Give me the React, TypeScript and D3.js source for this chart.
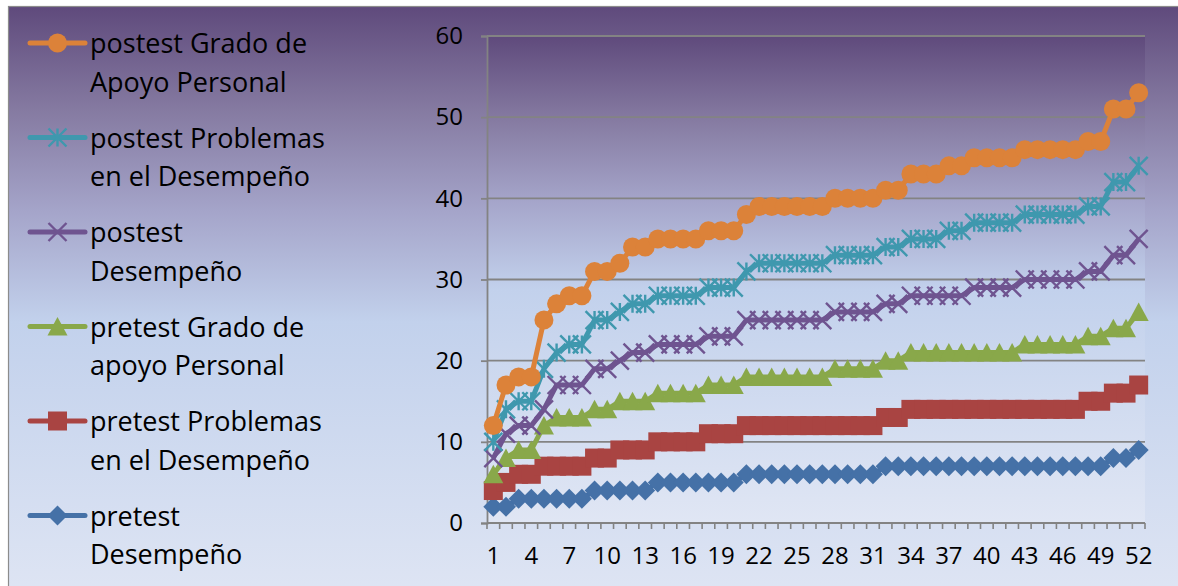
import React, { useEffect, useRef } from 'react';
import * as d3 from 'd3';

// Series values (52 participants, sorted ascending)
const postestApoyo = [12, 17, 18, 18, 25, 27, 28, 28, 31, 31, 32, 34, 34, 35, 35, 35, 35, 36, 36, 36, 38, 39, 39, 39, 39, 39, 39, 40, 40, 40, 40, 41, 41, 43, 43, 43, 44, 44, 45, 45, 45, 45, 46, 46, 46, 46, 46, 47, 47, 51, 51, 53];
const postestProblemas = [10, 14, 15, 15, 19, 21, 22, 22, 25, 25, 26, 27, 27, 28, 28, 28, 28, 29, 29, 29, 31, 32, 32, 32, 32, 32, 32, 33, 33, 33, 33, 34, 34, 35, 35, 35, 36, 36, 37, 37, 37, 37, 38, 38, 38, 38, 38, 39, 39, 42, 42, 44];
const postestDesempeno = [8, 11, 12, 12, 14, 17, 17, 17, 19, 19, 20, 21, 21, 22, 22, 22, 22, 23, 23, 23, 25, 25, 25, 25, 25, 25, 25, 26, 26, 26, 26, 27, 27, 28, 28, 28, 28, 28, 29, 29, 29, 29, 30, 30, 30, 30, 30, 31, 31, 33, 33, 35];
const pretestApoyo = [6, 8, 9, 9, 12, 13, 13, 13, 14, 14, 15, 15, 15, 16, 16, 16, 16, 17, 17, 17, 18, 18, 18, 18, 18, 18, 18, 19, 19, 19, 19, 20, 20, 21, 21, 21, 21, 21, 21, 21, 21, 21, 22, 22, 22, 22, 22, 23, 23, 24, 24, 26];
const pretestProblemas = [4, 5, 6, 6, 7, 7, 7, 7, 8, 8, 9, 9, 9, 10, 10, 10, 10, 11, 11, 11, 12, 12, 12, 12, 12, 12, 12, 12, 12, 12, 12, 13, 13, 14, 14, 14, 14, 14, 14, 14, 14, 14, 14, 14, 14, 14, 14, 15, 15, 16, 16, 17];
const pretestDesempeno = [2, 2, 3, 3, 3, 3, 3, 3, 4, 4, 4, 4, 4, 5, 5, 5, 5, 5, 5, 5, 6, 6, 6, 6, 6, 6, 6, 6, 6, 6, 6, 7, 7, 7, 7, 7, 7, 7, 7, 7, 7, 7, 7, 7, 7, 7, 7, 7, 7, 8, 8, 9];

const categories = d3.range(1, 53).map(String);
const yTicks = [0, 10, 20, 30, 40, 50, 60];

// legend order (top to bottom)
const seriesNames = [
  ['postest Grado de', 'Apoyo Personal'],
  ['postest Problemas', 'en el Desempeño'],
  ['postest', 'Desempeño'],
  ['pretest Grado de', 'apoyo Personal'],
  ['pretest Problemas', 'en el Desempeño'],
  ['pretest', 'Desempeño'],
];
const seriesValues = [postestApoyo, postestProblemas, postestDesempeno, pretestApoyo, pretestProblemas, pretestDesempeno];
const seriesColors = ['#dc8239', '#3f98ae', '#6f5490', '#89a84a', '#a94442', '#4571a7'];
const seriesMarkers = ['circle', 'star', 'x', 'triangle', 'square', 'diamond'];

const W = 1178;
const H = 586;
const FONT = "'Open Sans', Lato, sans-serif";

function drawMarker(g: d3.Selection<SVGGElement, unknown, null, undefined>, type: string, color: string) {
  if (type === 'circle') {
    g.append('circle').attr('r', 9.5).attr('fill', color);
  } else if (type === 'square') {
    g.append('rect').attr('x', -9.5).attr('y', -9.5).attr('width', 19).attr('height', 19).attr('fill', color);
  } else if (type === 'diamond') {
    g.append('path').attr('d', 'M0,-10L10,0L0,10L-10,0Z').attr('fill', color);
  } else if (type === 'triangle') {
    g.append('path').attr('d', 'M0,-9.5L10,9L-10,9Z').attr('fill', color);
  } else {
    const s = 9;
    let d = `M${-s},${-s}L${s},${s}M${s},${-s}L${-s},${s}`;
    if (type === 'star') d += `M0,${-s}L0,${s}`;
    g.append('path').attr('d', d).attr('stroke', color).attr('stroke-width', 2.4).attr('fill', 'none');
  }
}

export default function App() {
  const svgRef = useRef<SVGSVGElement>(null);

  useEffect(() => {
    if (!svgRef.current) return;
    const svg = d3.select(svgRef.current);
    svg.selectAll('*').remove();

    const plot = { left: 487, right: 1145, top: 36, bottom: 523 };

    const x = d3.scaleBand().domain(categories).range([plot.left, plot.right]);
    const y = d3.scaleLinear().domain([0, 60]).range([plot.bottom, plot.top]);

    const defs = svg.append('defs');
    const bgStops: [number, string][] = [
      [0, '#5f4a7c'], [0.17, '#857aa1'], [0.34, '#a5a5ca'], [0.52, '#c2d1ec'], [1, '#e0e6f4'],
    ];
    const chartGrad = defs.append('linearGradient').attr('id', 'chartBg')
      .attr('x1', 0).attr('y1', 0).attr('x2', 0).attr('y2', 1);
    bgStops.forEach(([o, c]) => chartGrad.append('stop').attr('offset', o).attr('stop-color', c));
    const plotGrad = defs.append('linearGradient').attr('id', 'plotBg')
      .attr('x1', 0).attr('y1', 0).attr('x2', 0).attr('y2', 1);
    bgStops.forEach(([o, c]) => plotGrad.append('stop').attr('offset', o).attr('stop-color', c));

    // chart area
    svg.append('rect').attr('x', 0).attr('y', 0).attr('width', W).attr('height', H).attr('fill', '#ffffff');
    svg.append('rect')
      .attr('x', 8.5).attr('y', 6.5).attr('width', W + 20).attr('height', H + 20)
      .attr('fill', 'url(#chartBg)').attr('stroke', '#8c8c8c').attr('stroke-width', 1.2);

    // plot area
    svg.append('rect')
      .attr('x', plot.left).attr('y', plot.top)
      .attr('width', plot.right - plot.left).attr('height', plot.bottom - plot.top)
      .attr('fill', 'url(#plotBg)');

    // gridlines
    svg.append('g').selectAll('line')
      .data(yTicks.filter(t => t > 0))
      .enter().append('line')
      .attr('x1', plot.left).attr('x2', plot.right)
      .attr('y1', d => y(d)).attr('y2', d => y(d))
      .attr('stroke', '#838383').attr('stroke-width', 1.8);

    // Y axis
    const yAxis = svg.append('g').attr('transform', `translate(${plot.left},0)`)
      .call(d3.axisLeft(y).tickValues(yTicks).tickSize(6).tickPadding(18));
    yAxis.selectAll('line').attr('stroke', '#838383').attr('stroke-width', 1.8);
    yAxis.select('.domain').attr('stroke', '#838383').attr('stroke-width', 1.8);
    yAxis.selectAll('text').attr('font-size', '24px').attr('font-family', FONT).attr('fill', '#000');

    // X axis
    const xAxisG = svg.append('g').attr('transform', `translate(0,${plot.bottom})`);
    xAxisG.append('line')
      .attr('x1', plot.left).attr('x2', plot.right).attr('y1', 0).attr('y2', 0)
      .attr('stroke', '#838383').attr('stroke-width', 1.8);
    const boundaries = categories.map(c => x(c)!).concat([plot.right]);
    xAxisG.selectAll('.xtick').data(boundaries).enter().append('line')
      .attr('x1', d => d).attr('x2', d => d).attr('y1', 0).attr('y2', 6)
      .attr('stroke', '#838383').attr('stroke-width', 1.6);
    xAxisG.selectAll('.xlabel')
      .data(categories.filter((_, i) => i % 3 === 0))
      .enter().append('text')
      .attr('x', d => x(d)! + x.bandwidth() / 2)
      .attr('y', 41)
      .attr('text-anchor', 'middle')
      .attr('font-size', '24px').attr('font-family', FONT).attr('fill', '#000')
      .text(d => d);

    // series, bottom ones first so the top series sit above
    const line = d3.line<number>()
      .x((_, i) => x(categories[i])! + x.bandwidth() / 2)
      .y(d => y(d));

    for (let s = seriesValues.length - 1; s >= 0; s--) {
      const color = seriesColors[s];
      const g = svg.append('g');
      g.append('path').datum(seriesValues[s])
        .attr('d', line)
        .attr('fill', 'none').attr('stroke', color).attr('stroke-width', 5)
        .attr('stroke-linejoin', 'round');
      seriesValues[s].forEach((v, i) => {
        const m = g.append('g')
          .attr('transform', `translate(${x(categories[i])! + x.bandwidth() / 2},${y(v)})`);
        drawMarker(m, seriesMarkers[s], color);
      });
    }

    // legend
    const legend = svg.append('g');
    seriesNames.forEach((lines, i) => {
      const base = 53 + i * 94.5;
      const item = legend.append('g');
      item.append('line')
        .attr('x1', 30).attr('x2', 85).attr('y1', base - 10).attr('y2', base - 10)
        .attr('stroke', seriesColors[i]).attr('stroke-width', 5).attr('stroke-linecap', 'round');
      const m = item.append('g').attr('transform', `translate(57.5,${base - 10})`);
      drawMarker(m, seriesMarkers[i], seriesColors[i]);
      lines.forEach((t, j) => {
        item.append('text')
          .attr('x', 90).attr('y', base + j * 38.5)
          .attr('font-size', '27px').attr('font-family', FONT).attr('fill', '#000')
          .text(t);
      });
    });
  }, []);

  return (
    <div style={{ position: 'absolute', left: 0, top: 0 }}>
      <svg ref={svgRef} width={W} height={H} style={{ display: 'block' }} />
    </div>
  );
}
